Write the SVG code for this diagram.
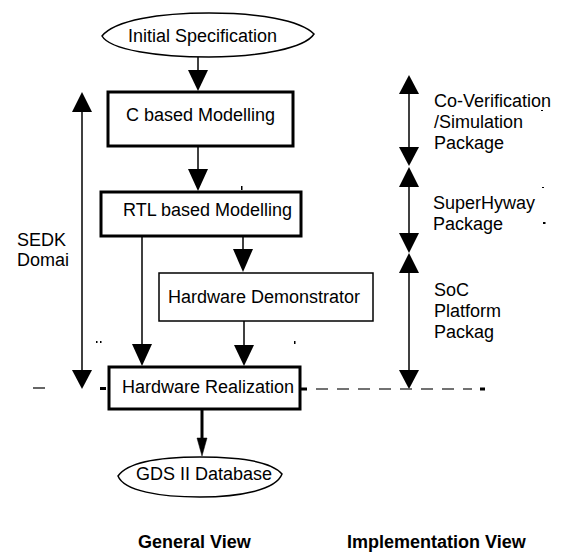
<svg xmlns="http://www.w3.org/2000/svg" width="565" height="552" viewBox="0 0 565 552">
<style>
text{font-family:"Liberation Sans",Arial,sans-serif;font-size:18px;fill:#000}
.b{font-weight:bold}
.box{fill:#fff;stroke:#000;stroke-width:3}
.thin{fill:#fff;stroke:#000;stroke-width:1.5}
.ln{stroke:#000;stroke-width:1.5;fill:none}
.hd{fill:#000}
</style>
<rect width="565" height="552" fill="#fff"/>
<g id="connectors">
  <line class="ln" x1="198" y1="57" x2="198" y2="72"/>
  <polygon class="hd" points="188,70 208,70 198,91"/>
  <line class="ln" x1="198" y1="146" x2="198" y2="171"/>
  <polygon class="hd" points="188,169 208,169 198,191"/>
  <line class="ln" x1="142" y1="236" x2="142" y2="346"/>
  <polygon class="hd" points="132,344 152,344 142,366"/>
  <line class="ln" x1="243" y1="236" x2="243" y2="251"/>
  <polygon class="hd" points="233,249 253,249 243,272"/>
  <line class="ln" x1="244" y1="321" x2="244" y2="347"/>
  <polygon class="hd" points="234,345 254,345 244,366"/>
  <line x1="202" y1="409" x2="202" y2="440" stroke="#000" stroke-width="3"/>
  <polygon class="hd" points="197,438 207,438 202,456" stroke="#000" stroke-width="0.5"/>
  <!-- SEDK domain double arrow -->
  <line class="ln" x1="82" y1="110" x2="82" y2="372"/>
  <polygon class="hd" points="82,92 72,112 92,112"/>
  <polygon class="hd" points="72,370 92,370 82,389"/>
  <!-- implementation arrows -->
  <line class="ln" x1="409" y1="90" x2="409" y2="150"/>
  <polygon class="hd" points="409,75 399,94 419,94"/>
  <polygon class="hd" points="399,147 419,147 409,166"/>
  <line class="ln" x1="409" y1="185" x2="409" y2="236"/>
  <polygon class="hd" points="409,167 399,187 419,187"/>
  <polygon class="hd" points="399,233 419,233 409,253"/>
  <line class="ln" x1="409" y1="270" x2="409" y2="373"/>
  <polygon class="hd" points="409,253 399,273 419,273"/>
  <polygon class="hd" points="399,370 419,370 409,389"/>
  <!-- dashed boundary -->
  <line x1="33" y1="388" x2="45" y2="388" stroke="#000" stroke-width="1.2"/>
  <line x1="100" y1="388.5" x2="106" y2="388.5" stroke="#000" stroke-width="3"/>
  <line x1="301" y1="389" x2="307" y2="389" stroke="#000" stroke-width="3"/>
  <line x1="316" y1="389" x2="472" y2="389" stroke="#444" stroke-width="1.5" stroke-dasharray="12 9"/>
  <line x1="480" y1="389" x2="485" y2="389" stroke="#000" stroke-width="3"/>
</g>
<g id="initial-spec">
  <path class="thin" d="M102,36 C115,20 160,13 209,13 C258,13 300,20 314,34 C305,48 260,57 209,57 C158,57 110,50 102,36 Z"/>
  <text x="128" y="42">Initial Specification</text>
</g>
<g id="c-model">
  <rect class="box" x="108" y="92" width="185" height="54"/>
  <text x="126" y="121">C based Modelling</text>
</g>
<g id="rtl-model">
  <rect class="box" x="101" y="192" width="200" height="44"/>
  <text x="123" y="216">RTL based Modelling</text>
</g>
<g id="hw-demo">
  <rect class="thin" x="159" y="273" width="214" height="48"/>
  <text x="168" y="303">Hardware Demonstrator</text>
</g>
<g id="hw-real">
  <rect class="box" x="109" y="367" width="191" height="42" stroke-width="3.5"/>
  <text x="122" y="393">Hardware Realization</text>
</g>
<g id="gds">
  <path class="thin" d="M118,476 C128,462 160,457 200,457 C240,457 272,462 282,474 C276,490 240,497 200,497 C160,497 124,491 118,476 Z"/>
  <text x="136" y="480">GDS II Database</text>
</g>
<g id="labels">
  <text x="17" y="246">SEDK</text>
  <text x="17" y="266">Domai</text>
  <text x="434" y="107">Co-Verification</text>
  <text x="434" y="128">/Simulation</text>
  <text x="434" y="149">Package</text>
  <text x="433" y="209">SuperHyway</text>
  <text x="433" y="230">Package</text>
  <text x="434" y="296">SoC</text>
  <text x="434" y="317">Platform</text>
  <text x="434" y="338">Packag</text>
  <text class="b" x="138" y="548">General View</text>
  <text class="b" x="347" y="548">Implementation View</text>
</g>
<g id="marks" fill="#000">
  <rect x="241" y="186" width="1.5" height="4"/>
  <rect x="96" y="341" width="1.5" height="2"/>
  <rect x="100" y="341" width="1.5" height="2"/>
  <rect x="294" y="341" width="1.5" height="3"/>
  <rect x="541" y="110" width="2" height="1"/>
  <rect x="542" y="187" width="2" height="1"/>
  <rect x="543" y="222" width="2.5" height="2"/>
</g>
</svg>
